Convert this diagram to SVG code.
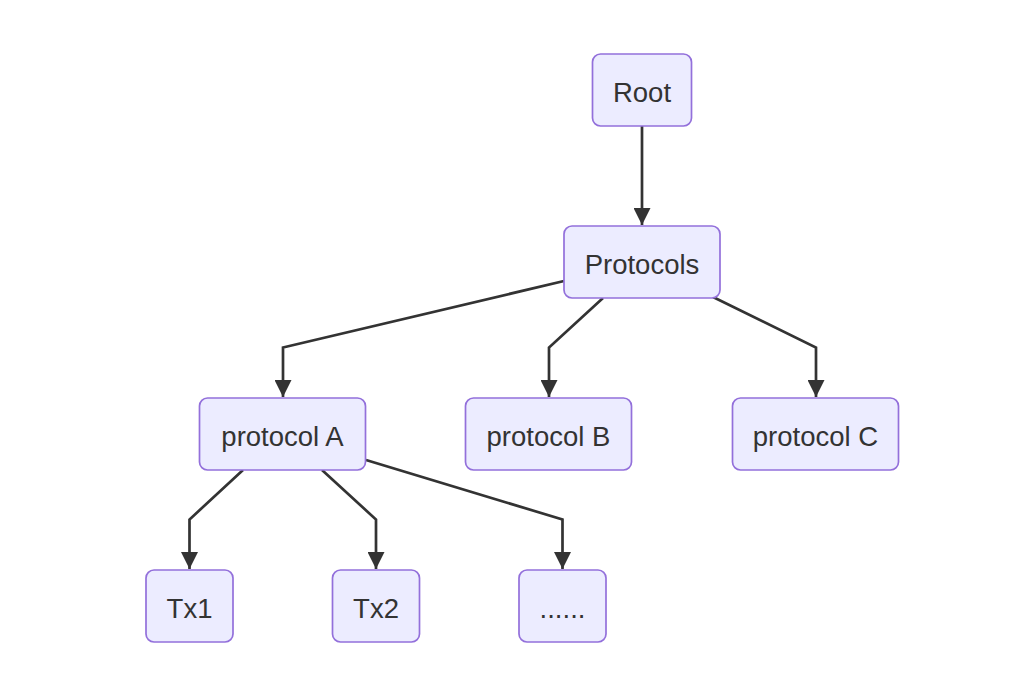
<svg xmlns="http://www.w3.org/2000/svg" width="1030" height="692" viewBox="0 0 1030 692">
<style>
.node rect{fill:#ECECFF;stroke:#9370DB;stroke-width:1.7}
.node text{font-family:"Liberation Sans",Arial,sans-serif;font-size:27.5px;fill:#333;text-anchor:middle;dominant-baseline:central}
.edge{fill:none;stroke:#333;stroke-width:2.7}
</style>
<defs>
<marker id="arrow" viewBox="0 0 10 10" refX="10" refY="5" markerWidth="17" markerHeight="17" markerUnits="userSpaceOnUse" orient="auto">
<path d="M0,0 L10,5 L0,10 z" fill="#333"/>
</marker>
</defs>
<rect width="1030" height="692" fill="#fff"/>
<g id="connectors">
<path class="edge" d="M642,126 L642,225" marker-end="url(#arrow)"/>
<path class="edge" d="M564,281 L283,347.5 L283,397" marker-end="url(#arrow)"/>
<path class="edge" d="M603,298 L549,347.5 L549,397" marker-end="url(#arrow)"/>
<path class="edge" d="M713,297 L816,347.5 L816,397" marker-end="url(#arrow)"/>
<path class="edge" d="M243,470 L189.5,519.5 L189.5,569" marker-end="url(#arrow)"/>
<path class="edge" d="M322,470 L376,519.5 L376,569" marker-end="url(#arrow)"/>
<path class="edge" d="M366,460 L562.5,519.5 L562.5,569" marker-end="url(#arrow)"/>
</g>
<g id="root" class="node"><rect x="592.5" y="54" width="99" height="72" rx="8"/><text x="642" y="92">Root</text></g>
<g id="protocols" class="node"><rect x="564" y="226" width="156" height="72" rx="8"/><text x="642" y="264">Protocols</text></g>
<g id="protocolA" class="node"><rect x="199.5" y="398" width="166" height="72" rx="8"/><text x="282.5" y="436">protocol A</text></g>
<g id="protocolB" class="node"><rect x="465.5" y="398" width="166" height="72" rx="8"/><text x="548.5" y="436">protocol B</text></g>
<g id="protocolC" class="node"><rect x="732.5" y="398" width="166" height="72" rx="8"/><text x="815.5" y="436">protocol C</text></g>
<g id="tx1" class="node"><rect x="146" y="570" width="87" height="72" rx="8"/><text x="189.5" y="608">Tx1</text></g>
<g id="tx2" class="node"><rect x="332.5" y="570" width="87" height="72" rx="8"/><text x="376" y="608">Tx2</text></g>
<g id="more" class="node"><rect x="519" y="570" width="87" height="72" rx="8"/><text x="562.5" y="608">......</text></g>
</svg>
